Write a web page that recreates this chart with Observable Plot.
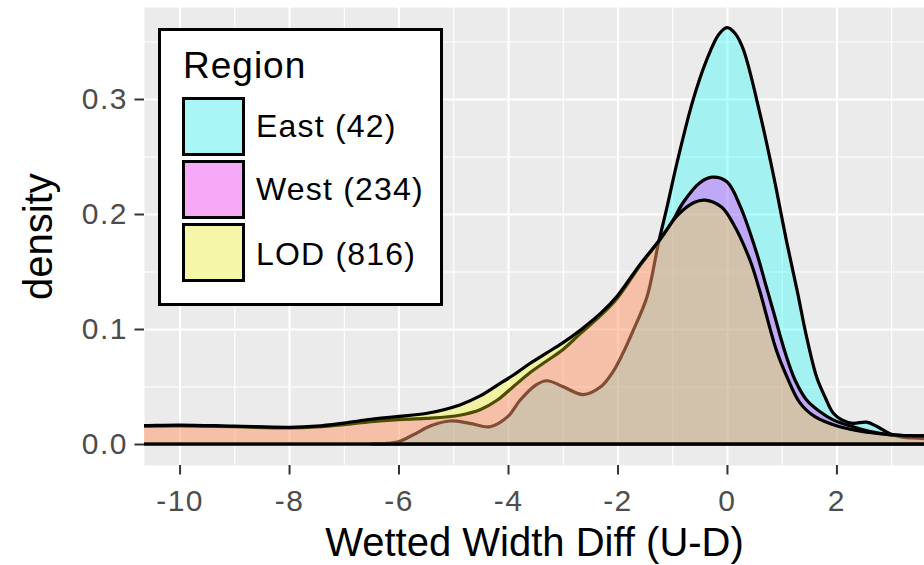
<!DOCTYPE html>
<html><head><meta charset="utf-8">
<script src="https://cdn.jsdelivr.net/npm/d3@7"></script>
<script src="https://cdn.jsdelivr.net/npm/@observablehq/plot@0.6"></script>
<style>
body{margin:0;background:#fff;}
#wrap{position:relative;width:924px;height:565px;overflow:hidden;}
#legend{position:absolute;left:0;top:0;pointer-events:none;}
</style></head><body><div id="wrap"></div>
<script>
// ---- data ----
const regions = ["East (42)", "West (234)", "LOD (816)"];
const regionColors = ["#00FFFF", "#FF00FF", "#FFFF00"];

const eastX = [-6.5, -6.2, -6.0, -5.73, -5.4, -5.06, -4.7, -4.33, -4.0, -3.78, -3.5, -3.29, -3.0, -2.63, -2.3, -2.08, -1.9, -1.72, -1.46, -1.25, -1.1, -0.91, -0.62, -0.37, -0.15, 0, 0.15, 0.3, 0.6, 0.8, 0.9, 1.09, 1.28, 1.46, 1.64, 1.8, 1.94, 2.1, 2.3, 2.55, 2.75, 2.98, 3.2, 3.5, 3.8];
const eastY = [0, 0.0005, 0.002, 0.008, 0.016, 0.020, 0.018, 0.015, 0.024, 0.038, 0.051, 0.055, 0.050, 0.043, 0.050, 0.063, 0.079, 0.098, 0.128, 0.175, 0.205, 0.245, 0.299, 0.334, 0.356, 0.362, 0.357, 0.343, 0.288, 0.245, 0.222, 0.176, 0.134, 0.092, 0.058, 0.040, 0.027, 0.021, 0.018, 0.019, 0.015, 0.009, 0.006, 0.005, 0.004];

const westX = [-11, -10.65, -10, -9, -8, -7.5, -7, -6.5, -6, -5.5, -4.88, -4.5, -4.2, -3.9, -3.6, -3.3, -3.0, -2.68, -2.3, -2.0, -1.59, -1.22, -0.98, -0.80, -0.5, -0.27, 0, 0.24, 0.55, 0.7, 0.85, 1.06, 1.25, 1.46, 1.7, 1.94, 2.3, 2.6, 3.0, 3.6, 3.8];
const westY = [0.0155, 0.0155, 0.0157, 0.0150, 0.0140, 0.0148, 0.0168, 0.0195, 0.0212, 0.0222, 0.025, 0.030, 0.038, 0.050, 0.062, 0.072, 0.082, 0.096, 0.112, 0.127, 0.155, 0.178, 0.195, 0.210, 0.227, 0.232, 0.228, 0.207, 0.165, 0.140, 0.115, 0.080, 0.055, 0.038, 0.028, 0.021, 0.015, 0.011, 0.008, 0.007, 0.007];

const lodX = [-11, -10.65, -10, -9, -8, -7.5, -7, -6.5, -6, -5.5, -4.88, -4.5, -4.2, -3.9, -3.6, -3.3, -3.0, -2.68, -2.3, -2.0, -1.59, -1.22, -0.9, -0.6, -0.4, -0.1, 0.11, 0.42, 0.6, 0.9, 1.1, 1.33, 1.6, 2.06, 2.6, 3.0, 3.6, 3.8];
const lodY = [0.016, 0.016, 0.0165, 0.0155, 0.0145, 0.0155, 0.0182, 0.0215, 0.0240, 0.0265, 0.034, 0.042, 0.051, 0.060, 0.070, 0.079, 0.088, 0.099, 0.114, 0.129, 0.156, 0.178, 0.199, 0.210, 0.212, 0.206, 0.192, 0.160, 0.133, 0.082, 0.058, 0.036, 0.024, 0.015, 0.010, 0.008, 0.007, 0.007];

const xTicks = [-10, -8, -6, -4, -2, 0, 2];
const xMinor = [-9, -7, -5, -3, -1, 1, 3];
const yTicks = [0, 0.1, 0.2, 0.3];
const yMinor = [0.05, 0.15, 0.25, 0.35];
const xTitle = "Wetted Width Diff (U-D)";
const yTitle = "density";
const legendTitle = "Region";

// ---- build tables ----
const toRows = (xs, ys) => xs.map((x, i) => ({x, y: ys[i]}));
const series = [toRows(eastX, eastY), toRows(westX, westY), toRows(lodX, lodY)];

const FONT = "'Liberation Sans', Arial, Helvetica, sans-serif";
const ALPHA = 0.3;

const chart = Plot.plot({
  width: 924, height: 565,
  marginLeft: 144, marginRight: 0, marginTop: 7, marginBottom: 100,
  x: {domain: [-10.65, 3.6]},
  y: {domain: [-0.01826, 0.38]},
  style: {background: "white", fontFamily: FONT, overflow: "visible"},
  marks: [
    Plot.frame({fill: "#EBEBEB", stroke: null}),
    Plot.gridX(xMinor, {stroke: "white", strokeOpacity: 1, strokeWidth: 1.1}),
    Plot.gridY(yMinor, {stroke: "white", strokeOpacity: 1, strokeWidth: 1.1}),
    Plot.gridX(xTicks, {stroke: "white", strokeOpacity: 1, strokeWidth: 2.2}),
    Plot.gridY(yTicks, {stroke: "white", strokeOpacity: 1, strokeWidth: 2.2}),
    ...series.map((rows, i) => Plot.areaY(rows, {
      x: "x", y: "y", curve: "catmull-rom", clip: true,
      fill: regionColors[i], fillOpacity: ALPHA,
      stroke: "black", strokeWidth: 3.2, strokeLinejoin: "round"
    })),
    Plot.axisX(xTicks, {tickSize: 9.5, tickPadding: 15, tickFormat: d => String(d), stroke: "#333333", strokeWidth: 2, fill: "#4D4D4D", fontSize: 30, label: null}),
    Plot.axisY(yTicks, {tickSize: 9.5, tickPadding: 7, tickFormat: d3.format(".1f"), stroke: "#333333", strokeWidth: 2, fill: "#4D4D4D", fontSize: 30, label: null}),
    Plot.text([xTitle], {text: d => d, frameAnchor: "bottom", lineAnchor: "middle", textAnchor: "middle", dy: 78, fontSize: 40, fill: "black", ariaLabel: "x-title"}),
    Plot.text([yTitle], {text: d => d, frameAnchor: "left", lineAnchor: "middle", textAnchor: "middle", rotate: -90, dx: -105, fontSize: 40, fill: "black", ariaLabel: "y-title"})
  ]
});
document.getElementById("wrap").append(chart);

// letter spacing tweaks to mimic the wide source rendering
const cs = d3.select(chart);
cs.selectAll('g[aria-label="x-axis tick label"] text, g[aria-label="y-axis tick label"] text').attr("letter-spacing", 1.5);
cs.selectAll('g[aria-label="x-title"] text, g[aria-label="y-title"] text').attr("letter-spacing", 0.3);

// ---- legend overlay ----
const svg = d3.select("#wrap").append("svg").attr("id", "legend").attr("width", 924).attr("height", 565)
  .style("font-family", FONT);
svg.append("rect").attr("x", 159.5).attr("y", 29.5).attr("width", 282).attr("height", 275)
  .attr("fill", "white").attr("stroke", "black").attr("stroke-width", 3);
svg.append("text").attr("x", 183).attr("y", 78).attr("font-size", 37).attr("letter-spacing", 1).text(legendTitle);
const keyTops = [97, 160, 223];
const keyBase = [137, 200, 265];
regions.forEach((r, i) => {
  svg.append("rect").attr("x", 182).attr("y", keyTops[i]).attr("width", 63).attr("height", 59).attr("fill", "#F2F2F2");
  svg.append("rect").attr("x", 183.5).attr("y", keyTops[i] + 1.5).attr("width", 60).attr("height", 56)
    .attr("fill", regionColors[i]).attr("fill-opacity", ALPHA).attr("stroke", "black").attr("stroke-width", 3);
  svg.append("text").attr("x", 256).attr("y", keyBase[i]).attr("font-size", 32).attr("letter-spacing", 1.2).text(r);
});
</script>
</body></html>
